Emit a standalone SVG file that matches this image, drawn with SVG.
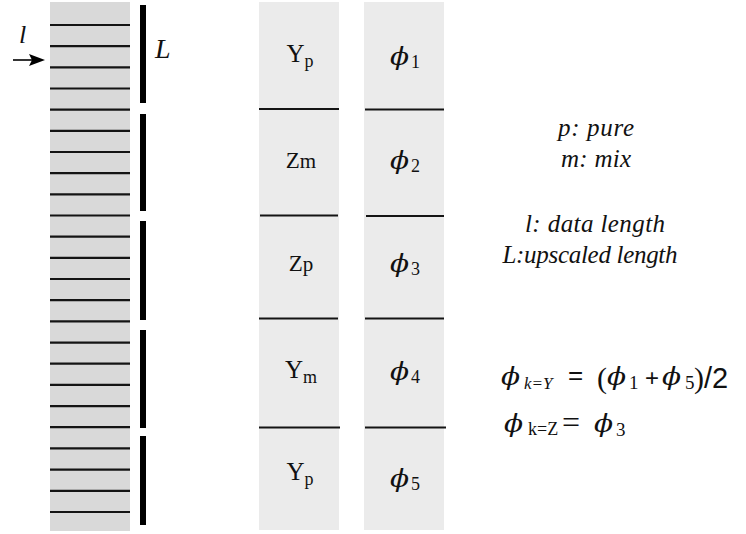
<svg xmlns="http://www.w3.org/2000/svg" width="746" height="534" viewBox="0 0 746 534">
<style>
.ln{stroke:#141414;stroke-width:2.2}
.bar{fill:#000}
.serif{font-family:"Liberation Serif","DejaVu Serif",serif;fill:#111}
.it{font-style:italic}
.lbl{font-size:25px}
.sub{font-size:18px}
.phi{font-family:"DejaVu Serif","Liberation Serif",serif;font-size:25px;font-style:italic;fill:#111}
.note{font-family:"Liberation Serif","DejaVu Serif",serif;font-style:italic;font-size:25px;fill:#111;text-anchor:middle}
.sans{font-family:"Liberation Sans","DejaVu Sans",sans-serif;fill:#111}
</style>
<rect width="746" height="534" fill="#fff"/>
<g id="data-column">
<rect x="50" y="2" width="80" height="529" fill="#d9d9d9"/>
<g class="ln">
<line x1="50" y1="25" x2="130" y2="25"/>
<line x1="50" y1="46.2" x2="130" y2="46.2"/>
<line x1="50" y1="67.3" x2="130" y2="67.3"/>
<line x1="50" y1="88.5" x2="130" y2="88.5"/>
<line x1="50" y1="109.7" x2="130" y2="109.7"/>
<line x1="50" y1="130.9" x2="130" y2="130.9"/>
<line x1="50" y1="152" x2="130" y2="152"/>
<line x1="50" y1="173.2" x2="130" y2="173.2"/>
<line x1="50" y1="194.4" x2="130" y2="194.4"/>
<line x1="50" y1="215.5" x2="130" y2="215.5"/>
<line x1="50" y1="236.7" x2="130" y2="236.7"/>
<line x1="50" y1="257.9" x2="130" y2="257.9"/>
<line x1="50" y1="279" x2="130" y2="279"/>
<line x1="50" y1="300.2" x2="130" y2="300.2"/>
<line x1="50" y1="321.4" x2="130" y2="321.4"/>
<line x1="50" y1="342.6" x2="130" y2="342.6"/>
<line x1="50" y1="363.7" x2="130" y2="363.7"/>
<line x1="50" y1="384.9" x2="130" y2="384.9"/>
<line x1="50" y1="406.1" x2="130" y2="406.1"/>
<line x1="50" y1="427.2" x2="130" y2="427.2"/>
<line x1="50" y1="448.4" x2="130" y2="448.4"/>
<line x1="50" y1="469.6" x2="130" y2="469.6"/>
<line x1="50" y1="490.8" x2="130" y2="490.8"/>
<line x1="50" y1="512" x2="130" y2="512"/>
</g>
</g>
<g id="upscaled-bars">
<rect class="bar" x="140" y="5" width="6" height="98"/>
<rect class="bar" x="140" y="114" width="6" height="97"/>
<rect class="bar" x="140" y="221" width="6" height="99"/>
<rect class="bar" x="140" y="330" width="6" height="98"/>
<rect class="bar" x="140" y="436" width="6" height="89"/>
</g>
<g id="label-l">
<text class="serif it" x="19" y="43" font-size="26">l</text>
</g>
<g id="label-L">
<text class="serif it" x="155" y="58" font-size="28">L</text>
</g>
<g id="connectors">
<line x1="13" y1="60" x2="32" y2="60" stroke="#000" stroke-width="1.6"/>
<polygon points="29,54 45,60 29,66 32,60" fill="#000"/>
</g>
<g id="facies-column">
<rect x="259" y="2" width="80" height="528" fill="#ebebeb"/>
<g class="ln">
<line x1="259" y1="109" x2="339" y2="109"/>
<line x1="260" y1="215.5" x2="338" y2="215.5"/>
<line x1="259" y1="318.5" x2="338" y2="318.5"/>
<line x1="259" y1="427.5" x2="340" y2="427.5"/>
</g>
<text class="serif lbl" x="300" y="62" text-anchor="middle">Y<tspan class="sub" dy="5">p</tspan></text>
<text class="serif" x="301" y="168" text-anchor="middle" font-size="23">Z<tspan font-size="21">m</tspan></text>
<text class="serif" x="301" y="270.5" text-anchor="middle" font-size="23">Z<tspan font-size="21">p</tspan></text>
<text class="serif lbl" x="301" y="378" text-anchor="middle">Y<tspan class="sub" dy="5">m</tspan></text>
<text class="serif lbl" x="300" y="480" text-anchor="middle">Y<tspan class="sub" dy="5">p</tspan></text>
</g>
<g id="phi-column">
<rect x="364" y="2" width="80" height="528" fill="#ebebeb"/>
<g class="ln">
<line x1="365" y1="109.5" x2="444" y2="109.5"/>
<line x1="366" y1="216" x2="444" y2="216"/>
<line x1="365" y1="318.5" x2="444" y2="318.5"/>
<line x1="365" y1="427.5" x2="446" y2="427.5"/>
</g>
<text class="phi" transform="translate(390,65) scale(1.12,1)">ϕ</text>
<text class="serif sub" x="411" y="68">1</text>
<text class="phi" transform="translate(390,169) scale(1.12,1)">ϕ</text>
<text class="serif sub" x="411" y="172">2</text>
<text class="phi" transform="translate(390,272) scale(1.12,1)">ϕ</text>
<text class="serif sub" x="411" y="275">3</text>
<text class="phi" transform="translate(390,380) scale(1.12,1)">ϕ</text>
<text class="serif sub" x="411" y="383">4</text>
<text class="phi" transform="translate(390,487) scale(1.12,1)">ϕ</text>
<text class="serif sub" x="411" y="490">5</text>
</g>
<g id="legend">
<text class="note" x="596" y="136" textLength="76">p: pure</text>
<text class="note" x="596" y="167" textLength="70">m: mix</text>
<text class="note" x="595" y="232" textLength="140">l: data length</text>
<text class="note" x="590" y="263" textLength="175">L:upscaled length</text>
</g>
<g id="equation-Y">
<text class="phi" transform="translate(501,385) scale(1.12,1)" font-size="28">ϕ</text>
<text class="serif it" x="524" y="389" font-size="17">k=Y</text>
<text class="sans" x="568" y="384" font-size="26">=</text>
<text class="serif" x="597" y="388" font-size="30">(</text>
<text class="phi" transform="translate(607,385) scale(1.12,1)" font-size="28">ϕ</text>
<text class="serif" x="629" y="389" font-size="19">1</text>
<text class="sans" x="645" y="386" font-size="24">+</text>
<text class="phi" transform="translate(662,385) scale(1.12,1)" font-size="28">ϕ</text>
<text class="serif" x="685" y="389" font-size="19">5</text>
<text class="serif" x="694" y="388" font-size="30">)</text>
<text class="sans" x="704" y="388" font-size="29">/2</text>
</g>
<g id="equation-Z">
<text class="phi" transform="translate(504,432) scale(1.12,1)" font-size="28">ϕ</text>
<text class="serif" x="528" y="435" font-size="18">k=Z</text>
<text class="serif" x="562" y="433" font-size="32">=</text>
<text class="phi" transform="translate(594,432) scale(1.12,1)" font-size="28">ϕ</text>
<text class="serif" x="616" y="436" font-size="19">3</text>
</g>
</svg>
